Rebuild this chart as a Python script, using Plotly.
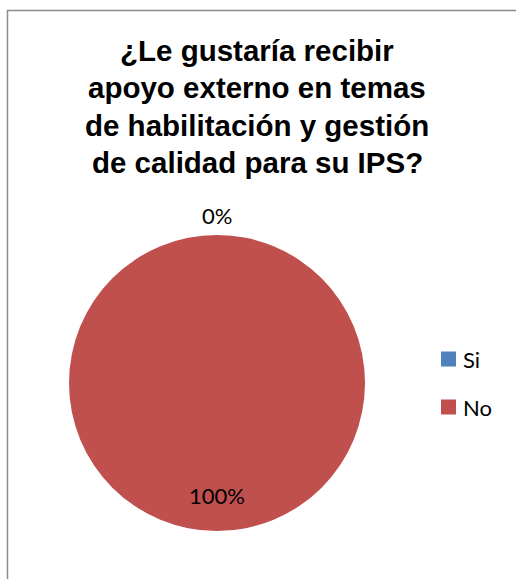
import plotly.graph_objects as go

# Survey answers
labels = ["Si", "No"]
values = [0, 100]
colors = ["#4F81BD", "#C0504D"]

title_lines = [
    "¿Le gustaría recibir",
    "apoyo externo en temas",
    "de habilitación y gestión",
    "de calidad para su IPS?",
]

W, H = 516, 579
cx, cy, r = 217, 383, 148  # pie centre / radius in pixels (from top-left)

fig = go.Figure(
    go.Pie(
        labels=labels,
        values=values,
        marker=dict(colors=colors, line=dict(width=0)),
        textinfo="none",
        sort=False,
        direction="clockwise",
        rotation=0,
        hoverinfo="label+percent",
        showlegend=False,
        domain=dict(
            x=[(cx - r) / W, (cx + r) / W],
            y=[(H - cy - r) / H, (H - cy + r) / H],
        ),
    )
)

annotations = []

# Title, one annotation per line
for i, line in enumerate(title_lines):
    annotations.append(dict(
        text=f"<b>{line}</b>", x=257 / W, y=1 - (50 + 37.5 * i) / H,
        xref="paper", yref="paper", xanchor="center", yanchor="middle",
        showarrow=False,
        font=dict(family="Liberation Sans, Arial", size=29.5, color="#000000"),
    ))

# Percentage labels
total = sum(values)
pct = [f"{round(v / total * 100)}%" for v in values]
label_pos = [(217, 215), (217, 495)]
for txt, (px, py) in zip(pct, label_pos):
    annotations.append(dict(
        text=txt, x=px / W, y=1 - py / H, xref="paper", yref="paper",
        xanchor="center", yanchor="middle", showarrow=False,
        font=dict(family="Lato, Carlito, Calibri", size=22, color="#000000"),
    ))

# Legend
shapes = []
legend_y = [359, 407]
for lab, col, ly in zip(labels, colors, legend_y):
    shapes.append(dict(
        type="rect", xref="paper", yref="paper",
        x0=441 / W, x1=456 / W, y0=1 - (ly + 7.5) / H, y1=1 - (ly - 7.5) / H,
        fillcolor=col, line=dict(width=0),
    ))
    annotations.append(dict(
        text=lab, x=461 / W, y=1 - ly / H, xref="paper", yref="paper",
        xanchor="left", yanchor="middle", showarrow=False,
        font=dict(family="Lato, Carlito, Calibri", size=22, color="#000000"),
    ))

# Chart-area border
shapes.append(dict(
    type="rect", xref="paper", yref="paper",
    x0=7.5 / W, x1=530 / W, y0=1 - 600 / H, y1=1 - 10.5 / H,
    line=dict(color="#8C8C8C", width=1.5), fillcolor="rgba(0,0,0,0)",
    layer="below",
))

fig.update_layout(
    width=W, height=H,
    margin=dict(l=0, r=0, t=0, b=0),
    paper_bgcolor="#FFFFFF", plot_bgcolor="#FFFFFF",
    annotations=annotations, shapes=shapes,
    showlegend=False,
)

fig.write_html("out.html")
